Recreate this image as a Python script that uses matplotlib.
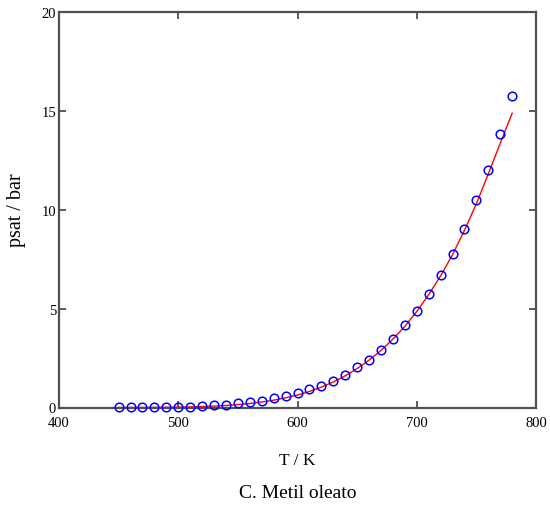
import matplotlib
matplotlib.use("Agg")
import matplotlib.pyplot as plt

# Data
T_exp = [450, 460, 470, 480, 490, 500, 510, 520, 530, 540, 550, 560, 570, 580,
         590, 600, 610, 620, 630, 640, 650, 660, 670, 680, 690, 700, 710, 720,
         730, 740, 750, 760, 770, 780]
p_exp = [0.01, 0.01, 0.01, 0.01, 0.02, 0.03, 0.05, 0.08, 0.11, 0.14, 0.21, 0.27,
         0.34, 0.47, 0.6, 0.73, 0.91, 1.1, 1.34, 1.65, 2.04, 2.4, 2.9, 3.46,
         4.15, 4.89, 5.73, 6.7, 7.77, 9.02, 10.47, 12.0, 13.82, 15.74]

T_fit = [450, 460, 470, 480, 490, 500, 510, 520, 530, 540, 550, 560, 570, 580,
         590, 600, 610, 620, 630, 640, 650, 660, 670, 680, 690, 700, 710, 720,
         730, 740, 750, 760, 770, 780]
p_fit = [0.002, 0.003, 0.005, 0.008, 0.013, 0.02, 0.03, 0.05, 0.07, 0.1, 0.15,
         0.2, 0.28, 0.37, 0.49, 0.63, 0.81, 1.03, 1.29, 1.6, 1.97, 2.39, 2.88,
         3.45, 4.1, 4.85, 5.7, 6.65, 7.72, 8.95, 10.3, 11.8, 13.35, 14.87]

xticks = [400, 500, 600, 700, 800]
yticks = [0, 5, 10, 15, 20]

plt.rcParams['font.family'] = ['Liberation Serif', 'DejaVu Serif']

fig = plt.figure(figsize=(5.5, 5.06), dpi=100)
ax = fig.add_axes([59/550, 1-408.5/506, (536-59)/550, (408.5-12.7)/506])

ax.plot(T_fit, p_fit, color='red', lw=1.0, zorder=2)
ax.plot(T_exp, p_exp, linestyle='none', marker='o', markersize=6.2,
        markerfacecolor='none', markeredgecolor='blue', markeredgewidth=1.1,
        zorder=3, clip_on=False)

ax.set_xlim(400, 800)
ax.set_ylim(0, 20)
ax.set_xticks(xticks)
ax.set_yticks(yticks)
ax.tick_params(direction='in', length=5, width=1.2, color='#404040',
               top=True, right=True, labelsize=10.5)
ax.tick_params(axis='x', pad=6)
ax.tick_params(axis='y', pad=2)
for s in ax.spines.values():
    s.set_color('#505050')
    s.set_linewidth(1.6)

fig.text(17/550, 1-210/506, 'psat / bar', rotation=90, ha='center',
         va='center', fontsize=14.5)
ax.set_xlabel('T / K', fontsize=12.5, labelpad=17)
fig.text(298/550, 1-494/506, 'C. Metil oleato', ha='center', va='center',
         fontsize=14)

fig.savefig('out.png', dpi=100)
